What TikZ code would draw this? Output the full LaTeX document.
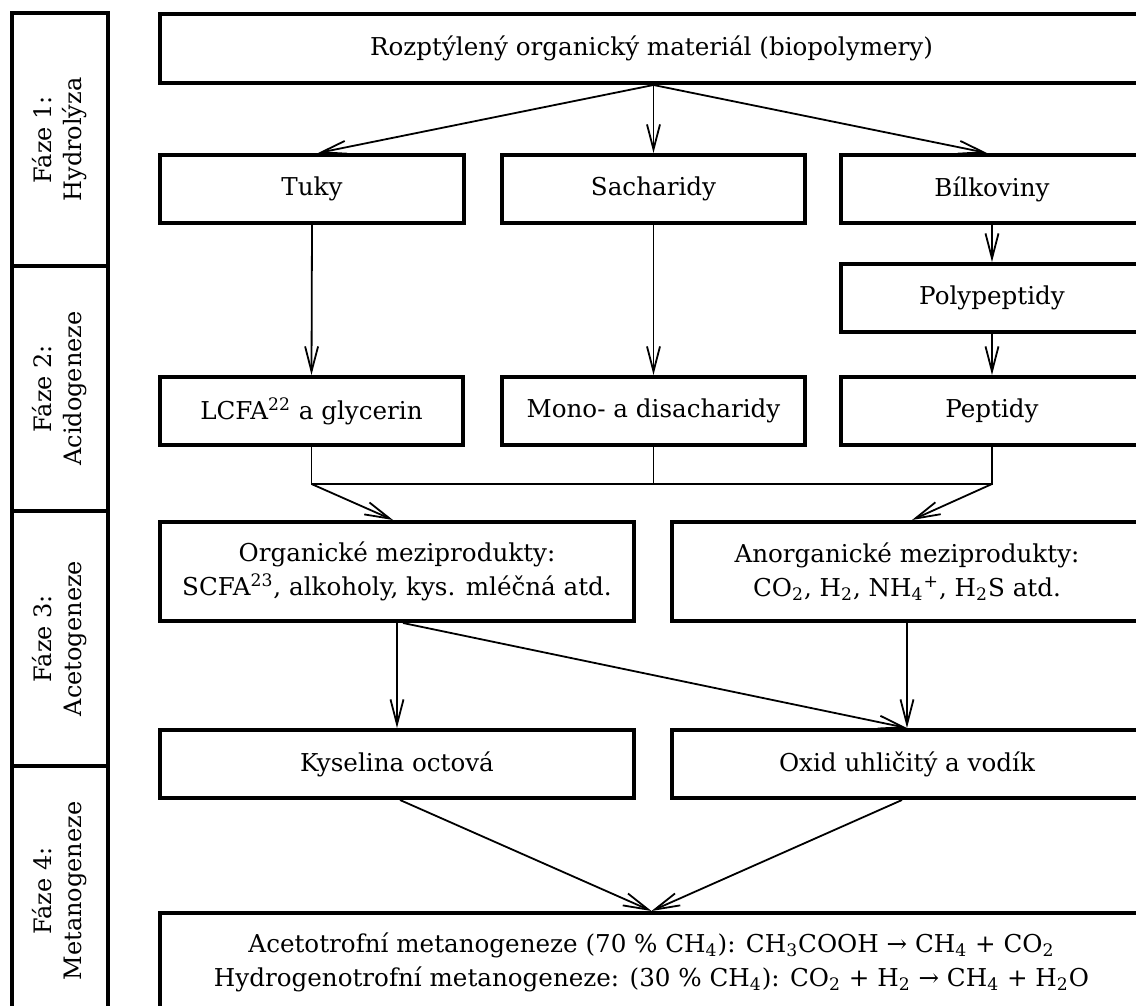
\documentclass[tikz,border=0pt]{standalone}
\usepackage{fontspec}
\setmainfont{DejaVu Serif}
\usetikzlibrary{arrows.meta,calc}
\begin{document}
\begin{tikzpicture}[x=0.5pt,y=-0.5pt,
  box/.style={draw, line width=2pt, rectangle, align=center, inner sep=0pt,
    font=\fontsize{12.3}{17}\selectfont},
  phasebox/.style={draw, line width=2pt, rectangle, align=center, inner sep=0pt,
    rotate=90, minimum height=48pt, font=\fontsize{12}{15}\selectfont},
  conn/.style={-{Straight Barb[length=12.5pt,width=6.5pt]}, line width=0.9pt},
  joinline/.style={line width=0.8pt}]
\useasboundingbox (0,0) rectangle (1136,1006);
\clip (0,0) rectangle (1136,1006);

% phase column
\node[phasebox, minimum width=126.5pt] (p1) at (60,139.5) {Fáze 1:\\Hydrolýza};
\node[phasebox, minimum width=122.5pt] (p2) at (60,388.5) {Fáze 2:\\Acidogeneze};
\node[phasebox, minimum width=127.5pt] (p3) at (60,638.5) {Fáze 3:\\Acetogeneze};
\node[phasebox, minimum width=125pt] (p4) at (60,891) {Fáze 4:\\Metanogeneze};

% boxes
\node[box, minimum width=491.5pt, minimum height=34.5pt] (top) at (651.5,48.5)
  {Rozptýlený organický materiál (biopolymery)};
\node[box, minimum width=152pt, minimum height=34pt] (tuky) at (312,189) {Tuky};
\node[box, minimum width=151.5pt, minimum height=34pt] (sach) at (653.5,189) {Sacharidy};
\node[box, minimum width=151pt, minimum height=34pt] (bilk) at (992,189) {Bílkoviny};
\node[box, minimum width=151pt, minimum height=34pt] (poly) at (992,298) {Polypeptidy};
\node[box, minimum width=151.5pt, minimum height=34pt] (lcfa) at (311.5,411)
  {LCFA\textsuperscript{22} a glycerin};
\node[box, minimum width=151.5pt, minimum height=34pt] (mono) at (653.5,411)
  {Mono- a disacharidy};
\node[box, minimum width=151pt, minimum height=34pt] (pept) at (992,411) {Peptidy};
\node[box, minimum width=237pt, minimum height=49.5pt] (org) at (397,571.5)
  {Organické meziprodukty:\\SCFA\textsuperscript{23}, alkoholy, kys. mléčná atd.};
\node[box, minimum width=235pt, minimum height=49.5pt] (anorg) at (907,571.5)
  {Anorganické meziprodukty:\\CO\textsubscript{2}, H\textsubscript{2}, NH\textsubscript{4}\textsuperscript{+}, H\textsubscript{2}S atd.};
\node[box, minimum width=237pt, minimum height=34pt] (kys) at (397,764) {Kyselina octová};
\node[box, minimum width=235pt, minimum height=34pt] (oxid) at (907,764)
  {Oxid uhličitý a vodík};
\node[box, minimum width=491.5pt, minimum height=49pt] (bot) at (651.5,962)
  {Acetotrofní metanogeneze (70~\% CH\textsubscript{4}): CH\textsubscript{3}COOH → CH\textsubscript{4} + CO\textsubscript{2}\\
   Hydrogenotrofní metanogeneze: (30~\% CH\textsubscript{4}): CO\textsubscript{2} + H\textsubscript{2} → CH\textsubscript{4} + H\textsubscript{2}O};

% phase 1 arrows
\coordinate (src) at (top.south -| sach.north);
\draw[conn] (src) -- ($(tuky.north)+(6,0)$);
\draw[conn] (src) -- (sach.north);
\draw[conn] (src) -- ($(bilk.north)+(-5,0)$);
% phase 2
\draw[conn] (tuky.south) -- (lcfa.north);
\draw[conn] (sach.south) -- (mono.north);
\draw[conn] (bilk.south) -- (poly.north);
\draw[conn] (poly.south) -- (pept.north);
% join
\coordinate (jrow) at (0,484);
\coordinate (jl) at (lcfa.south |- jrow);
\coordinate (jm) at (mono.south |- jrow);
\coordinate (jr) at (pept.south |- jrow);
\draw[joinline] (lcfa.south) -- (jl) -- (jr) -- (pept.south);
\draw[joinline] (mono.south) -- (jm);
\draw[conn] (jl) -- ($(org.north)+(-4,0)$);
\draw[conn] (jr) -- ($(anorg.north)+(5,0)$);
% phase 3
\draw[conn] (org.south) -- (kys.north);
\draw[conn] ($(org.south)+(6,0)$) -- (oxid.north);
\draw[conn] (anorg.south) -- (oxid.north);
% phase 4
\draw[conn] ($(kys.south)+(3,0)$) -- (bot.north);
\draw[conn] ($(oxid.south)+(-5,0)$) -- (bot.north);
\end{tikzpicture}
\end{document}
